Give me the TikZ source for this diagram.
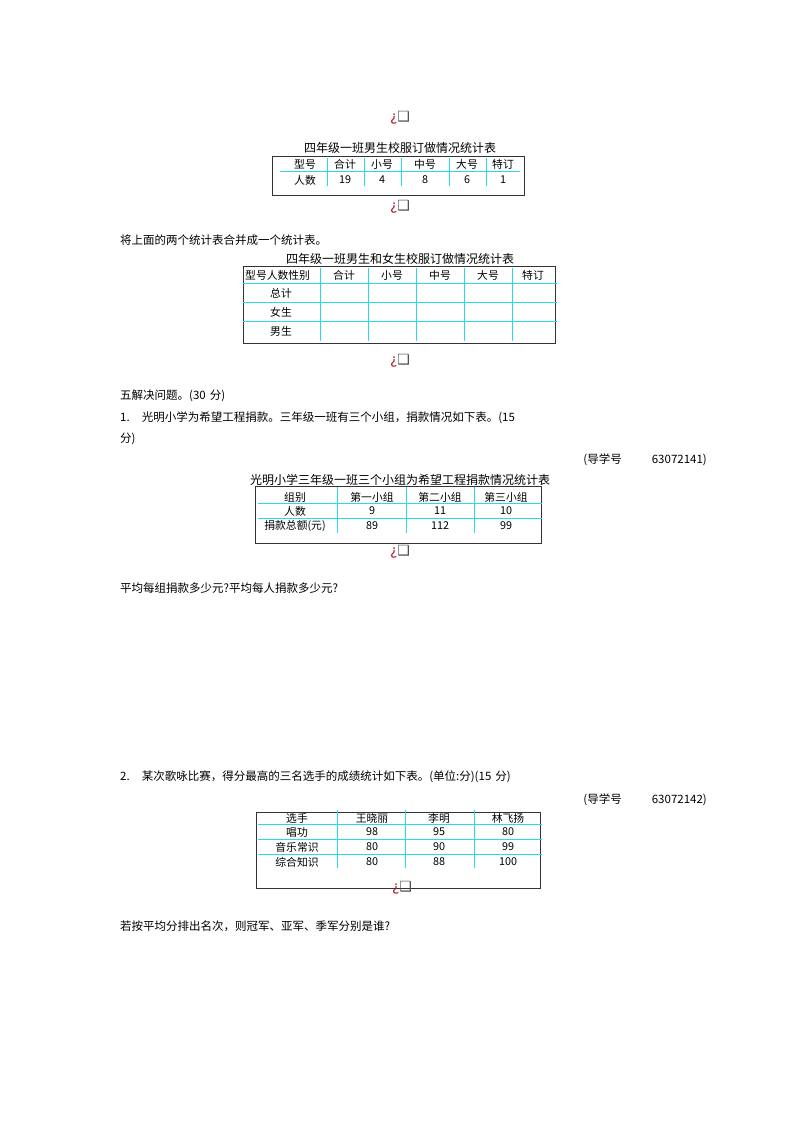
\documentclass[tikz,border=0pt]{standalone}
\usepackage{fontspec}
\setmainfont{Noto Sans CJK SC}
\newfontfamily\symf{DejaVu Sans}
\XeTeXlinebreaklocale "zh"
\XeTeXlinebreakskip=0pt plus 1pt
\definecolor{cyanl}{RGB}{40,220,230}
\definecolor{hookred}{RGB}{170,30,40}
\begin{document}
\begin{tikzpicture}[x=1pt,y=-1pt,
  body/.style={anchor=west,inner sep=0pt,font=\fontsize{11.5}{12}\selectfont},
  tt/.style={inner sep=0pt,font=\fontsize{10.8}{11}\selectfont},
  ttl/.style={inner sep=0pt,font=\fontsize{12}{12}\selectfont},
  frame/.style={draw=black!80,line width=1pt},
  cy/.style={draw=cyanl,line width=1pt}]
\useasboundingbox (0,0) rectangle (800,1132);
\newcommand{\hk}[3]{\node[inner sep=0pt,font=\symf\fontsize{14}{14}\selectfont] (#1) at (#2,#3) {\textcolor{hookred}{¿}\textcolor{black!70}{❑}};}
\hk{h1}{400}{118}
\node[ttl] (t1) at (400,148) {四年级一班男生校服订做情况统计表};
\draw[frame] (272,156) rectangle (524,195);
\draw[cy] (280,171) -- (520,171);
\foreach \x in {327,364,401,449,486} \draw[cy] (\x,158) -- (\x,186);
\foreach \x/\a/\b in {305/型号/人数,345/合计/19,382/小号/4,425/中号/8,467/大号/6,503/特订/1}{
  \node[tt] at (\x,164) {\a}; \node[tt] at (\x,180) {\b};}
\hk{h2}{400}{207}
\node[body] (p1) at (120,240) {将上面的两个统计表合并成一个统计表。};
\node[ttl] (t2) at (400,259) {四年级一班男生和女生校服订做情况统计表};
\draw[frame] (243,266) rectangle (555,343);
\foreach \y in {283,302,321} \draw[cy] (243,\y) -- (557,\y);
\foreach \x in {320,368,416,464,512} \draw[cy] (\x,268) -- (\x,341);
\node[tt,anchor=west] at (245,275) {型号人数性别};
\foreach \x/\a in {344/合计,392/小号,440/中号,488/大号,533/特订} \node[tt] at (\x,275) {\a};
\node[tt] at (281,293) {总计};
\node[tt] at (281,312) {女生};
\node[tt] at (281,331) {男生};
\hk{h3}{400}{361}
\node[body] (p2) at (120,396) {五解决问题。(30\kern4pt 分)};
\node[body] (p3) at (120,418) {\makebox[583pt][s]{1.\kern12pt 光明小学为希望工程捐款。三年级一班有三个小组，捐款情况如下表。(15}};
\node[body] (p4) at (120,439) {分)};
\node[body,anchor=east] (p5) at (707,460) {(导学号\hspace{30pt}63072141)};
\node[ttl] (t3) at (400,480) {光明小学三年级一班三个小组为希望工程捐款情况统计表};
\draw[frame] (255,486) rectangle (541,543);
\foreach \y in {503,518} \draw[cy] (258,\y) -- (542,\y);
\foreach \x in {337,406,474} \draw[cy] (\x,487) -- (\x,533);
\foreach \x/\a/\b/\c in {295/组别/人数/捐款总额(元),372/第一小组/9/89,440/第二小组/11/112,506/第三小组/10/99}{
  \node[tt] at (\x,497) {\a}; \node[tt] at (\x,511) {\b}; \node[tt] at (\x,526) {\c};}
\hk{h4}{400}{552}
\node[body] (p6) at (120,588) {平均每组捐款多少元?平均每人捐款多少元?};
\node[body] (p7) at (120,777) {\makebox[516pt][s]{2.\kern12pt 某次歌咏比赛，得分最高的三名选手的成绩统计如下表。(单位:分)(15\kern4pt 分)}};
\node[body,anchor=east] (p8) at (707,800) {(导学号\hspace{30pt}63072142)};
\draw[frame] (256,812) rectangle (540,888);
\foreach \y in {824,839,854} \draw[cy] (258,\y) -- (542,\y);
\foreach \x in {337,405,474} \draw[cy] (\x,810) -- (\x,868);
\foreach \x/\a/\b/\c/\d in {297/选手/唱功/音乐常识/综合知识,372/王晓丽/98/80/80,439/李明/95/90/88,508/林飞扬/80/99/100}{
  \node[tt] at (\x,818) {\a}; \node[tt] at (\x,832) {\b}; \node[tt] at (\x,847) {\c}; \node[tt] at (\x,862) {\d};}
\hk{h5}{402}{888}
\node[body] (p9) at (120,926) {若按平均分排出名次，则冠军、亚军、季军分别是谁?};
\end{tikzpicture}
\end{document}
